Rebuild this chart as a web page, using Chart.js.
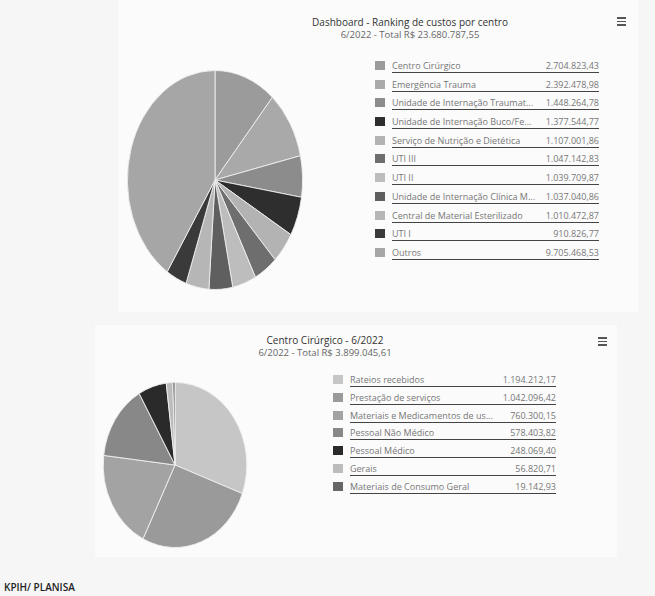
<!DOCTYPE html>
<html>
<head>
<meta charset="utf-8">
<script src="https://cdn.jsdelivr.net/npm/chart.js@4.4.0/dist/chart.umd.min.js"></script>
<style>
  body { margin: 0; width: 655px; height: 596px; background: #f6f6f6; font-family: "Open Sans", sans-serif; position: relative; overflow: hidden; }
  .panel { position: absolute; background: #fbfbfb; }
  .title { position: absolute; text-align: center; color: #333; font-size: 10px; line-height: 12px; }
  .sub { color: #666; font-size: 9.5px; }
  .menu { position: absolute; width: 9px; }
  .menu div { height: 1.5px; background: #555; margin-bottom: 2px; }
  .legend { position: absolute; font-size: 9px; color: #777; }
  .row { position: relative; height: 18.7px; }
  .sw { position: absolute; left: 0; top: 2px; width: 10px; height: 9px; }
  .lbl { position: absolute; top: 0; border-bottom: 1px solid #444; line-height: 13px; white-space: nowrap; }
  .val { position: absolute; right: 0; top: 0; line-height: 13px; }
  .foot { position: absolute; left: 4px; top: 580px; font-size: 10px; font-weight: 600; color: #222; }
</style>
</head>
<body>
<div class="panel" style="left:118px;top:0;width:520px;height:312px"></div>
<div class="panel" style="left:95px;top:325px;width:522px;height:232px"></div>

<div class="title" style="left:240px;top:16px;width:340px">Dashboard - Ranking de custos por centro<br><span class="sub">6/2022 - Total R$ 23.680.787,55</span></div>
<div class="menu" style="left:617px;top:17px"><div></div><div></div><div></div></div>
<div style="position:absolute;left:105px;top:70px;width:220px;height:220px"><canvas id="pie1"></canvas></div>
<div class="legend" id="leg1" style="left:375px;top:59px;width:224px"></div>

<div class="title" style="left:160px;top:334px;width:330px">Centro Cirúrgico - 6/2022<br><span class="sub">6/2022 - Total R$ 3.899.045,61</span></div>
<div class="menu" style="left:598px;top:337px"><div></div><div></div><div></div></div>
<div style="position:absolute;left:92px;top:382px;width:166px;height:166px"><canvas id="pie2"></canvas></div>
<div class="legend" id="leg2" style="left:333px;top:373px;width:223px"></div>

<div class="foot">KPIH/ PLANISA</div>

<script>
// dados do painel de centros
const centros = ["Centro Cirúrgico", "Emergência Trauma", "Unidade de Internação Traumat...", "Unidade de Internação Buco/Fe...",
  "Serviço de Nutrição e Dietética", "UTI III", "UTI II", "Unidade de Internação Clínica M...",
  "Central de Material Esterilizado", "UTI I", "Outros"];
const custosCentros = [2704823.43, 2392478.98, 1448264.78, 1377544.77, 1107001.86, 1047142.83,
  1039709.87, 1037040.86, 1010472.87, 910826.77, 9705468.53];
const coresCentros = ["#9b9b9b", "#a9a9a9", "#8c8c8c", "#2e2e2e", "#b3b3b3", "#6e6e6e",
  "#bdbdbd", "#5f5f5f", "#b6b6b6", "#3a3a3a", "#a6a6a6"];

// dados do centro cirurgico
const contas = ["Rateios recebidos", "Prestação de serviços", "Materiais e Medicamentos de us...",
  "Pessoal Não Médico", "Pessoal Médico", "Gerais", "Materiais de Consumo Geral"];
const custosContas = [1194212.17, 1042096.42, 760300.15, 578403.82, 248069.40, 56820.71, 19142.93];
const coresContas = ["#c6c6c6", "#9a9a9a", "#a3a3a3", "#888888", "#2a2a2a", "#bcbcbc", "#666666"];

const fmt = (v) => v.toLocaleString("pt-BR", { minimumFractionDigits: 2, maximumFractionDigits: 2 });

// the scan squashes the pies horizontally
const squash = {
  id: "squash",
  beforeDatasetsDraw(chart, args, opts) {
    const arc = chart.getDatasetMeta(0).data[0];
    const ctx = chart.ctx;
    ctx.save();
    ctx.translate(arc.x, arc.y);
    ctx.scale(opts.sx, 1);
    ctx.translate(-arc.x, -arc.y);
  },
  afterDatasetsDraw(chart) {
    chart.ctx.restore();
  }
};

function makePie(id, labels, values, colors, sx) {
  new Chart(document.getElementById(id), {
    type: "pie",
    data: {
      labels: labels,
      datasets: [{ data: values, backgroundColor: colors, borderColor: "#eeeeee", borderWidth: 1 }]
    },
    options: {
      responsive: true,
      maintainAspectRatio: false,
      animation: false,
      plugins: { legend: { display: false }, tooltip: { enabled: false }, squash: { sx: sx } }
    },
    plugins: [squash]
  });
}

function makeLegend(id, labels, values, colors, rowH) {
  const box = document.getElementById(id);
  labels.forEach((l, i) => {
    const row = document.createElement("div");
    row.className = "row";
    row.style.height = rowH + "px";
    row.innerHTML = `<div class="sw" style="background:${colors[i]}"></div>
      <div class="lbl" style="left:17px;right:0">${l}</div>
      <div class="val">${fmt(values[i])}</div>`;
    box.appendChild(row);
  });
}

makePie("pie1", centros, custosCentros, coresCentros, 0.8);
makePie("pie2", contas, custosContas, coresContas, 0.87);
makeLegend("leg1", centros, custosCentros, coresCentros, 18.7);
makeLegend("leg2", contas, custosContas, coresContas, 17.8);
</script>
</body>
</html>
